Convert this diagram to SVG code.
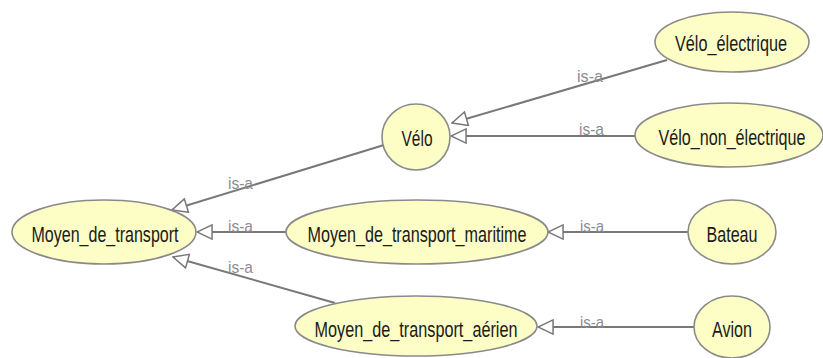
<svg xmlns="http://www.w3.org/2000/svg" width="823" height="358" viewBox="0 0 823 358">
<style>
.node ellipse{fill:#fdfdc6;stroke:#8a8a8a;stroke-width:1.6}
.node text{font-family:"Liberation Sans",Arial,sans-serif;font-size:22px;fill:#1a1a1a;text-anchor:middle}
.edge line{stroke:#787878;stroke-width:2;marker-end:url(#open)}
.lbl{font-family:"Liberation Sans",Arial,sans-serif;font-size:17px;fill:#8c8c8c}
</style>
<defs>
<marker id="open" markerUnits="userSpaceOnUse" markerWidth="18" markerHeight="16" refX="16" refY="7.5" orient="auto" viewBox="-1 -1 18 17">
<path d="M0,0 L16,7.5 L0,15 Z" fill="#ffffff" stroke="#787878" stroke-width="1.6"/>
</marker>
</defs>
<rect width="823" height="358" fill="#ffffff"/>
<g id="connectors" class="edge">
<line x1="384" y1="145" x2="172" y2="210"/>
<line x1="286" y1="232" x2="197" y2="232"/>
<line x1="335" y1="303" x2="173" y2="257"/>
<line x1="667" y1="60" x2="452" y2="123"/>
<line x1="635" y1="136" x2="451" y2="136"/>
<line x1="688" y1="232" x2="548" y2="232"/>
<line x1="695" y1="327" x2="538" y2="327"/>
<g class="lbls">
<text class="lbl" x="228" y="189" textLength="25" lengthAdjust="spacingAndGlyphs">is-a</text>
<text class="lbl" x="228" y="232" textLength="25" lengthAdjust="spacingAndGlyphs">is-a</text>
<text class="lbl" x="228" y="273" textLength="25" lengthAdjust="spacingAndGlyphs">is-a</text>
<text class="lbl" x="577" y="82" textLength="26" lengthAdjust="spacingAndGlyphs">is-a</text>
<text class="lbl" x="579" y="135" textLength="25" lengthAdjust="spacingAndGlyphs">is-a</text>
<text class="lbl" x="580" y="232" textLength="24" lengthAdjust="spacingAndGlyphs">is-a</text>
<text class="lbl" x="580" y="328" textLength="24" lengthAdjust="spacingAndGlyphs">is-a</text>
</g>
</g>
<g id="n-moyen" class="node">
<ellipse cx="104" cy="232" rx="92" ry="32"/>
<text x="105" y="242" textLength="147" lengthAdjust="spacingAndGlyphs">Moyen_de_transport</text>
</g>
<g id="n-velo" class="node">
<ellipse cx="416" cy="137" rx="34" ry="33"/>
<text x="417" y="146" textLength="31" lengthAdjust="spacingAndGlyphs">Vélo</text>
</g>
<g id="n-velo-elec" class="node">
<ellipse cx="732" cy="42" rx="77" ry="30"/>
<text x="731" y="51" textLength="112" lengthAdjust="spacingAndGlyphs">Vélo_électrique</text>
</g>
<g id="n-velo-non" class="node">
<ellipse cx="729" cy="135" rx="94" ry="32"/>
<text x="732" y="145" textLength="147" lengthAdjust="spacingAndGlyphs">Vélo_non_électrique</text>
</g>
<g id="n-maritime" class="node">
<ellipse cx="417" cy="232" rx="131" ry="32"/>
<text x="417" y="242" textLength="219" lengthAdjust="spacingAndGlyphs">Moyen_de_transport_maritime</text>
</g>
<g id="n-bateau" class="node">
<ellipse cx="732" cy="232" rx="44" ry="32"/>
<text x="732" y="242" textLength="51" lengthAdjust="spacingAndGlyphs">Bateau</text>
</g>
<g id="n-aerien" class="node">
<ellipse cx="416" cy="326" rx="121" ry="30"/>
<text x="416" y="337" textLength="203" lengthAdjust="spacingAndGlyphs">Moyen_de_transport_aérien</text>
</g>
<g id="n-avion" class="node">
<ellipse cx="732" cy="327" rx="38" ry="31"/>
<text x="732" y="337" textLength="40" lengthAdjust="spacingAndGlyphs">Avion</text>
</g>
</svg>
